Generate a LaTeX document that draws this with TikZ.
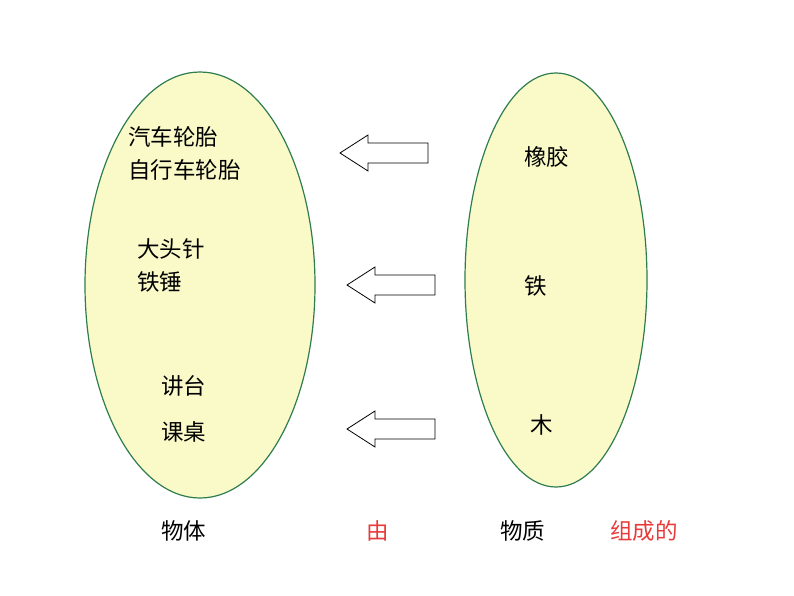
\documentclass[tikz,border=0pt]{standalone}
\usepackage{fontspec}
\setmainfont{Noto Sans CJK SC}
\definecolor{ellfill}{HTML}{FAFAC8}
\definecolor{ellline}{HTML}{2E7D4F}
\definecolor{redt}{HTML}{E83A3A}
\begin{document}
\begin{tikzpicture}[x=1pt,y=-1pt,
  ell/.style={draw=ellline,fill=ellfill,line width=1.2pt},
  lbl/.style={anchor=west,inner sep=0pt,font=\fontsize{22.5}{26}\selectfont},
  barrow/.style={draw=black,fill=white,line width=0.8pt,line join=miter}]
\useasboundingbox (0,0) rectangle (794,596);
\draw[ell] (200,285) ellipse [x radius=115,y radius=213];
\draw[ell] (556,280) ellipse [x radius=91,y radius=207];
\foreach \n/\x/\y in {a1/340/153,a2/347/285,a3/347/429}{
  \coordinate (\n) at (\x,\y);
  \draw[barrow] (\n) -- ++(28,-18) -- ++(0,8) -- ++(60,0) -- ++(0,20) -- ++(-60,0) -- ++(0,8) -- cycle;
}
\node[lbl] (t1) at (128,137) {汽车轮胎};
\node[lbl] (t2) at (128,170) {自行车轮胎};
\node[lbl] (t3) at (137,249) {大头针};
\node[lbl] (t4) at (137,282) {铁锤};
\node[lbl] (t5) at (161,386) {讲台};
\node[lbl] (t6) at (161,432) {课桌};
\node[lbl] (r1) at (524,157) {橡胶};
\node[lbl] (r2) at (524,286) {铁};
\node[lbl] (r3) at (530,425) {木};
\node[lbl] (b1) at (161,531) {物体};
\node[lbl,text=redt] (b2) at (366,531) {由};
\node[lbl] (b3) at (500,531) {物质};
\node[lbl,text=redt] (b4) at (610,531) {组成的};
\end{tikzpicture}
\end{document}
